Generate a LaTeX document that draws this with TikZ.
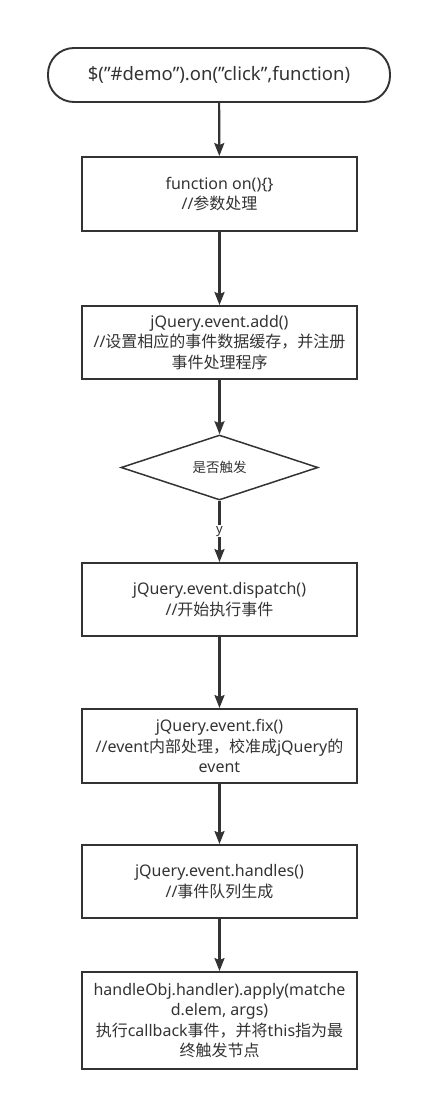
\documentclass[tikz,border=0pt]{standalone}
\usepackage{fontspec}
\setmainfont{Noto Sans}
\newfontfamily\cj{Noto Sans CJK SC}
\usetikzlibrary{shapes.geometric,arrows.meta}
\definecolor{ink}{HTML}{333333}
\tikzset{
  proc/.style={draw=ink, line width=1.9pt, minimum width=275pt, inner sep=2pt, align=center, text=ink,
    font=\fontsize{16}{20.5}\selectfont},
  term/.style={draw=ink, line width=1.9pt, rounded corners=26pt, minimum width=342pt, minimum height=54pt, text=ink,
    font=\fontsize{18.5}{20}\selectfont},
  deci/.style={draw=ink, line width=1.5pt, diamond, aspect=3.03, minimum width=197pt, minimum height=65pt, inner sep=0pt, text=ink,
    font=\fontsize{13.5}{15}\selectfont},
  flow/.style={draw=ink, line width=2.2pt, -{Stealth[length=13pt,width=10pt,inset=2pt]}},
  lbl/.style={fill=white, text=ink, inner sep=1pt, font=\fontsize{13}{14}\selectfont}
}
\begin{document}
\begin{tikzpicture}[x=1pt,y=-1pt]
\useasboundingbox (0,0) rectangle (423,1100);
\node[term] (s) at (219,75) {\$("\#demo").on("click",function)};
\node[proc, minimum height=74pt] (b1) at (219.5,194) {function on()\{\}\\//{\cj 参数处理}};
\node[proc, minimum height=73pt] (b2) at (219.5,342.5) {jQuery.event.add()\\//{\cj 设置相应的事件数据缓存，并注册}\\{\cj 事件处理程序}};
\node[deci] (d) at (219.5,467.5) {\cj 是否触发};
\node[proc, minimum height=73pt] (b3) at (219.5,599.5) {jQuery.event.dispatch()\\//{\cj 开始执行事件}};
\node[proc, minimum height=74pt] (b4) at (219.5,746) {jQuery.event.fix()\\//event{\cj 内部处理，校准成}jQuery{\cj 的}\\event};
\node[proc, minimum height=73pt] (b5) at (219.5,881.5) {jQuery.event.handles()\\//{\cj 事件队列生成}};
\node[proc, minimum height=97pt] (b6) at (219.5,1020.5) {handleObj.handler).apply(matche\\d.elem, args)\\{\cj 执行}callback{\cj 事件，并将}this{\cj 指为最}\\{\cj 终触发节点}};
\draw[flow] (s) -- (b1);
\draw[flow] (b1) -- (b2);
\draw[flow] (b2) -- (d.north);
\draw[flow] (d.south) -- node[lbl, pos=0.5] {y} (b3);
\draw[flow] (b3) -- (b4);
\draw[flow] (b4) -- (b5);
\draw[flow] (b5) -- (b6);
\end{tikzpicture}
\end{document}
